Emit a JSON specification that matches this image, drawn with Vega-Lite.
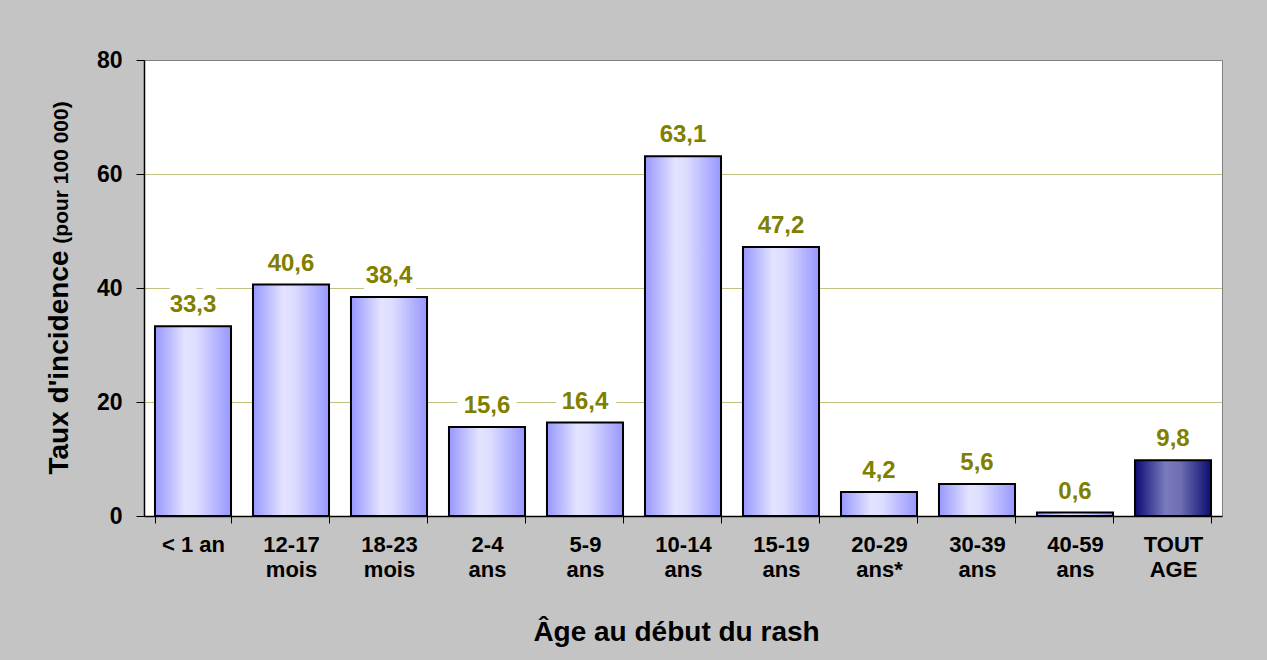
{
  "$schema": "https://vega.github.io/schema/vega-lite/v6.json",
  "width": 1078,
  "height": 456,
  "autosize": {"type": "none"},
  "padding": {"left": 144, "top": 60, "right": 45, "bottom": 144},
  "background": "#c4c4c4",
  "config": {
    "font": "Liberation Sans",
    "view": {"fill": "white", "stroke": "#808080", "strokeWidth": 1},
    "locale": {"number": {"decimal": ",", "thousands": " ", "grouping": [3], "currency": ["", " €"]}}
  },
  "data": {
    "values": [
      {"age": "< 1 an", "taux": 33.3, "groupe": "age"},
      {"age": "12-17\nmois", "taux": 40.6, "groupe": "age"},
      {"age": "18-23\nmois", "taux": 38.4, "groupe": "age"},
      {"age": "2-4\nans", "taux": 15.6, "groupe": "age"},
      {"age": "5-9\nans", "taux": 16.4, "groupe": "age"},
      {"age": "10-14\nans", "taux": 63.1, "groupe": "age"},
      {"age": "15-19\nans", "taux": 47.2, "groupe": "age"},
      {"age": "20-29\nans*", "taux": 4.2, "groupe": "age"},
      {"age": "30-39\nans", "taux": 5.6, "groupe": "age"},
      {"age": "40-59\nans", "taux": 0.6, "groupe": "age"},
      {"age": "TOUT\nAGE", "taux": 9.8, "groupe": "total"}
    ]
  },
  "encoding": {
    "x": {
      "field": "age",
      "type": "nominal",
      "sort": null,
      "scale": {"paddingInner": 0.224, "paddingOuter": 0.112},
      "axis": {
        "title": "Âge au début du rash",
        "labelAngle": 0,
        "labelExpr": "split(datum.label, '\\n')",
        "labelFont": "Liberation Sans",
        "labelFontSize": 22,
        "labelFontWeight": "bold",
        "labelColor": "black",
        "labelLineHeight": 25,
        "labelPadding": 11,
        "labelBaseline": "top",
        "labelLimit": 0,
        "tickBand": "extent",
        "tickSize": 7,
        "tickColor": "black",
        "domainColor": "black",
        "domainWidth": 1.5,
        "titleFont": "Liberation Sans",
        "titleFontSize": 28,
        "titleFontWeight": "bold",
        "titleColor": "black",
        "titleX": 532,
        "titleY": 124,
        "titleAlign": "center",
        "titleBaseline": "alphabetic"
      }
    }
  },
  "layer": [
    {
      "transform": [{"filter": "datum.groupe == 'age'"}],
      "mark": {
        "type": "bar",
        "stroke": "black",
        "strokeWidth": 2,
        "fill": {
          "gradient": "linear", "x1": 0, "y1": 0, "x2": 1, "y2": 0,
          "stops": [
            {"offset": 0, "color": "#9797ff"},
            {"offset": 0.4, "color": "#e4e4ff"},
            {"offset": 0.55, "color": "#dcdcff"},
            {"offset": 1, "color": "#9797ff"}
          ]
        }
      },
      "encoding": {
        "y": {
          "field": "taux",
          "type": "quantitative",
          "scale": {"domain": [0, 80], "nice": false},
          "axis": {
            "values": [0, 20, 40, 60, 80],
            "title": "Taux d'incidence",
            "labelFont": "Liberation Sans",
            "labelFontSize": 23,
            "labelFontWeight": "bold",
            "labelColor": "black",
            "labelPadding": 14,
            "tickSize": 8,
            "tickColor": "black",
            "domainColor": "black",
            "domainWidth": 1.5,
            "grid": true,
            "gridColor": "#808000",
            "gridDash": [1, 1],
            "gridOpacity": {"condition": {"test": "datum.value == 80 || datum.value == 0", "value": 0}, "value": 1},
            "titleFont": "Liberation Sans",
            "titleFontSize": 28,
            "titleFontWeight": "bold",
            "titleColor": "black",
            "titleAngle": -90,
            "titleX": -77,
            "titleY": 302,
            "titleAlign": "center",
            "titleBaseline": "alphabetic"
          }
        }
      }
    },
    {
      "transform": [{"filter": "datum.groupe == 'total'"}],
      "mark": {
        "type": "bar",
        "stroke": "black",
        "strokeWidth": 2,
        "fill": {
          "gradient": "linear", "x1": 0, "y1": 0, "x2": 1, "y2": 0,
          "stops": [
            {"offset": 0, "color": "#0c0c72"},
            {"offset": 0.4, "color": "#7a7abf"},
            {"offset": 0.6, "color": "#6e6eb2"},
            {"offset": 1, "color": "#0c0c72"}
          ]
        }
      },
      "encoding": {
        "y": {
          "field": "taux",
          "type": "quantitative",
          "scale": {"domain": [0, 80], "nice": false},
          "axis": null
        }
      }
    },
    {
      "mark": {
        "type": "text",
        "dy": -14,
        "baseline": "alphabetic",
        "font": "Liberation Sans",
        "fontSize": 24,
        "fontWeight": "bold",
        "fill": "white",
        "stroke": "white",
        "strokeWidth": 16,
        "strokeJoin": "round"
      },
      "encoding": {
        "y": {
          "field": "taux",
          "type": "quantitative",
          "scale": {"domain": [0, 80], "nice": false},
          "axis": null
        },
        "text": {"field": "taux", "type": "quantitative", "format": ".1f"}
      }
    },
    {
      "mark": {
        "type": "text",
        "dy": -14,
        "baseline": "alphabetic",
        "font": "Liberation Sans",
        "fontSize": 24,
        "fontWeight": "bold",
        "fill": "#808000"
      },
      "encoding": {
        "y": {
          "field": "taux",
          "type": "quantitative",
          "scale": {"domain": [0, 80], "nice": false},
          "axis": {
            "orient": "left",
            "title": "(pour 100 000)",
            "labels": false,
            "ticks": false,
            "domain": false,
            "grid": false,
            "titleFont": "Liberation Sans",
            "titleFontSize": 21,
            "titleFontWeight": "bold",
            "titleColor": "black",
            "titleAngle": -90,
            "titleX": -77,
            "titleY": 112,
            "titleAlign": "center",
            "titleBaseline": "alphabetic"
          }
        },
        "text": {"field": "taux", "type": "quantitative", "format": ".1f"}
      }
    }
  ],
  "resolve": {"scale": {"y": "independent"}, "axis": {"y": "independent"}}
}
